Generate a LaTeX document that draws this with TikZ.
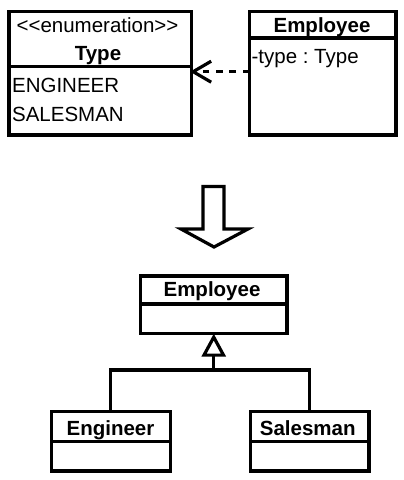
\documentclass[tikz,border=0pt]{standalone}
\usepackage{fontspec}
\setmainfont{Liberation Sans}
\usetikzlibrary{positioning,arrows.meta}
\frenchspacing

\def\classwidth{146.5pt}

\begin{document}
\begin{tikzpicture}[x=1pt,y=-1pt,line width=3.2pt,font=\fontsize{20.5}{24}\selectfont]
				\tikzstyle{compartment}=[draw,inner sep=0pt,outer sep=0pt]
			    \tikzstyle{title}=[inner sep=0pt,anchor=base,font=\fontsize{20.5}{24}\selectfont\bfseries]
			    \tikzstyle{member}=[inner sep=0pt,anchor=base west]
			    \tikzstyle{dependency}=[dash pattern=on 6.7pt off 6.7pt,-{Straight Barb[length=18pt,width=21pt]}]
			    \tikzstyle{inherits}=[-{Triangle[open,length=23pt,width=24pt]}]

			    \useasboundingbox (0,0) rectangle (404,480);

			    % Enumeration Type
			    \node[compartment,minimum width=182.5pt,minimum height=55.2pt] (typehead) at (100.25,39.1) {};
			    \node[compartment,minimum width=182.5pt,minimum height=68.3pt,below=0pt of typehead] (typebody) {};
			    \node[inner sep=0pt,anchor=base] (stereo) at (97.5,32.3) {{<}{<}enumeration{>}{>}};
			    \node[title] (typename) at (98,60) {Type};
			    \node[member] (engineer) at (10.5,92.3) {ENGINEER};
			    \node[member] (salesman) at (10.5,121.7) {SALESMAN};

			    % Employee with type field
			    \node[compartment,minimum width=\classwidth,minimum height=26.5pt] (emphead) at (322.75,24.75) {};
			    \node[compartment,minimum width=\classwidth,minimum height=97pt,below=0pt of emphead] (empbody) {};
			    \node[title] (empname) at (322,32.3) {Employee};
			    \node[member] (typefield) at (250,63) {-type : Type};

			    % Dependency on the enumeration
			    \coordinate (dep) at (0,71.7);
			    \draw[dependency,shorten >=-1.5pt] (empbody.west |- dep) -- (typebody.east |- dep);

			    % Refactoring arrow
			    \draw[miter limit=20] (203,186.5) -- (224,186.5) -- (224,229) -- (248,229) -- (214,247) -- (181,229) -- (203,229) -- cycle;

			    % Employee superclass
			    \node[compartment,minimum width=\classwidth,minimum height=28pt] (superhead) at (213.75,290) {};
			    \node[compartment,minimum width=\classwidth,minimum height=29.7pt,below=0pt of superhead] (superbody) {};
			    \node[title] (supername) at (212,296.7) {Employee};

			    % Subclasses
			    \node[compartment,minimum width=118.5pt,minimum height=29.6pt] (enghead) at (110.85,426.5) {};
			    \node[compartment,minimum width=118.5pt,minimum height=29.7pt,below=0pt of enghead] (engbody) {};
			    \node[title] (engname) at (110.5,435) {Engineer};
			    \node[compartment,minimum width=118.5pt,minimum height=29.6pt] (salhead) at (309.65,426.5) {};
			    \node[compartment,minimum width=118.5pt,minimum height=29.7pt,below=0pt of salhead] (salbody) {};
			    \node[title] (salname) at (307.7,435) {Salesman};

			    % Generalization
			    \coordinate (hub) at (superbody.south |- 0,370);
			    \draw[inherits] (hub) -- (superbody.south);
			    \draw (enghead.north) |- (hub) -| (salhead.north);

			\end{tikzpicture}
\end{document}
